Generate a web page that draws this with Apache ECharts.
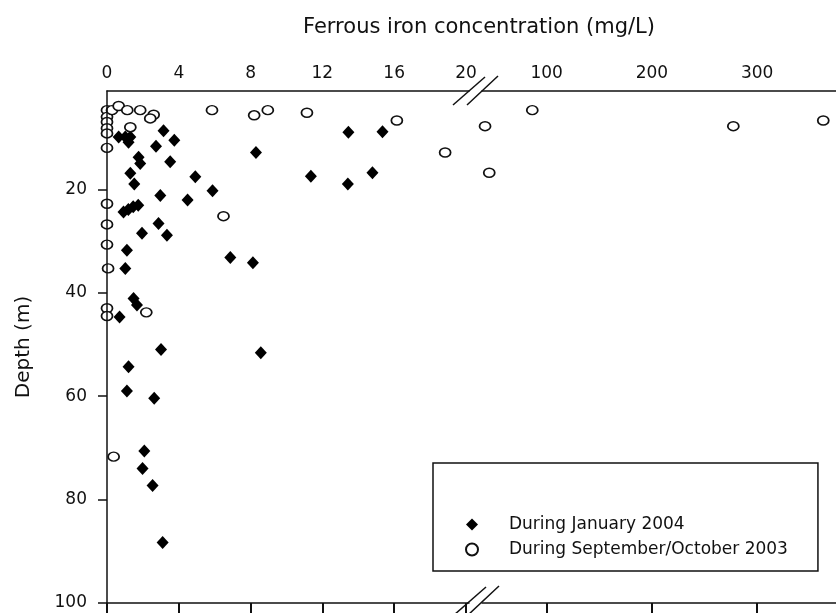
<!DOCTYPE html>
<html>
<head>
<meta charset="utf-8">
<title>Ferrous iron concentration</title>
<script src="https://cdn.jsdelivr.net/npm/echarts@6/dist/echarts.min.js"></script>
<style>
  html, body { margin: 0; padding: 0; background: #fff; }
  #chart { width: 836px; height: 613px; }
</style>
</head>
<body>
<div id="chart"></div>
<script>
  // [concentration mg/L, depth m]
  var januaryPoints = [
    [3.15, 8.7], [3.75, 10.5], [2.73, 11.7], [8.30, 12.9], [1.76, 13.8], [1.85, 15.0],
    [3.52, 14.7], [1.30, 16.9], [1.52, 19.0], [4.92, 17.6], [5.88, 20.3], [2.97, 21.2],
    [4.49, 22.1], [0.92, 24.4], [1.46, 23.4], [1.19, 23.9], [1.74, 23.1], [2.87, 26.6],
    [1.95, 28.5], [3.34, 28.9], [1.11, 31.8], [1.02, 35.3], [6.87, 33.2], [8.13, 34.2],
    [1.48, 41.1], [1.67, 42.4], [0.70, 44.7], [13.45, 9.0], [15.35, 8.9], [11.36, 17.5],
    [14.79, 16.8], [13.42, 19.0], [3.01, 51.0], [8.57, 51.6], [1.20, 54.3], [1.11, 59.0],
    [2.63, 60.4], [2.08, 70.6], [1.98, 74.0], [2.54, 77.3], [3.10, 88.3], [0.65, 9.9],
    [1.02, 9.9], [1.30, 9.9], [1.20, 10.9]
  ];
  var septemberPoints = [
    [0, 4.7], [0, 6.0], [0, 7.0], [0, 8.2], [0, 9.2], [0, 12.0], [0.28, 4.7], [0.65, 3.9],
    [1.13, 4.7], [1.85, 4.7], [2.6, 5.6], [2.41, 6.3], [1.30, 8.0], [5.85, 4.7], [8.2, 5.7],
    [8.96, 4.7], [11.14, 5.2], [16.15, 6.7], [18.84, 12.9], [6.49, 25.2], [0, 22.8],
    [0, 26.8], [0, 30.7], [0.06, 35.3], [0, 43.0], [0, 44.5], [2.19, 43.8], [0.37, 71.7],
    [41.4, 7.8], [45.4, 16.8], [86.3, 4.7], [277.4, 7.8], [362.9, 6.7]
  ];
  var leftTicks = [0, 4, 8, 12, 16, 20];
  var rightTicks = [100, 200, 300];
  var depthTicks = [20, 40, 60, 80, 100];
  var breakAt = 20;

  var janName = 'During January 2004';
  var sepName = 'During September/October 2003';
  var font = 'DejaVu Sans';
  var ink = '#111';

  function lowPart(points) {
    return points.filter(function (p) { return p[0] <= breakAt; });
  }
  function highPart(points) {
    return points.filter(function (p) { return p[0] > breakAt; });
  }

  var chart = echarts.init(document.getElementById('chart'));

  var axisLine = { lineStyle: { color: ink, width: 1.5 } };

  function topAxis(grid, min, max, ticks) {
    return {
      type: 'value', gridIndex: grid, position: 'top', min: min, max: max,
      z: 5, axisLine: axisLine, axisTick: { show: false }, splitLine: { show: false },
      axisLabel: { customValues: ticks, margin: 9, color: ink, fontFamily: font, fontSize: 17 }
    };
  }
  function bottomAxis(grid, min, max, ticks) {
    return {
      type: 'value', gridIndex: grid, position: 'bottom', min: min, max: max,
      z: 5, axisLine: axisLine, splitLine: { show: false },
      axisTick: { customValues: ticks, length: 10, lineStyle: { color: ink, width: 2 } },
      axisLabel: { show: false }
    };
  }

  var janStyle = { color: '#000', opacity: 1 };
  var sepStyle = { color: '#fff', borderColor: ink, borderWidth: 1.6, opacity: 1 };

  chart.setOption({
    animation: false,
    title: {
      text: 'Ferrous iron concentration (mg/L)',
      left: 298,
      top: 12,
      textStyle: { fontFamily: font, fontSize: 21, fontWeight: 'normal', color: ink }
    },
    legend: {
      orient: 'vertical',
      left: 433,
      top: 463,
      padding: [53, 30, 13, 32],
      itemWidth: 12,
      itemHeight: 12,
      itemGap: 8,
      borderColor: ink,
      borderWidth: 1.5,
      data: [janName, sepName],
      textStyle: { fontFamily: font, fontSize: 17, color: ink, padding: [0, 0, 0, 26] }
    },
    grid: [
      { left: 107, top: 91, width: 362, height: 512 },
      { left: 482, top: 91, right: 0, height: 512 }
    ],
    xAxis: [
      topAxis(0, 0, 20.17, leftTicks),
      topAxis(1, 38.5, 375, rightTicks),
      bottomAxis(0, 0, 20.17, leftTicks),
      bottomAxis(1, 38.5, 375, rightTicks)
    ],
    yAxis: [
      {
        type: 'value', gridIndex: 0, inverse: true, min: 1, max: 100, z: 5,
        name: 'Depth (m)', nameLocation: 'middle', nameGap: 73,
        nameTextStyle: { fontFamily: font, fontSize: 20, color: ink },
        axisLine: axisLine, splitLine: { show: false },
        axisTick: { customValues: depthTicks, length: 9, lineStyle: { color: ink, width: 1.5 } },
        axisLabel: { customValues: depthTicks, margin: 20, color: ink, fontFamily: font, fontSize: 17 }
      },
      {
        type: 'value', gridIndex: 1, inverse: true, min: 1, max: 100,
        axisLine: { show: false }, axisTick: { show: false },
        axisLabel: { show: false }, splitLine: { show: false }
      }
    ],
    graphic: [
      { type: 'line', shape: { x1: 453, y1: 105, x2: 485, y2: 77 }, style: { stroke: ink, lineWidth: 1.5 } },
      { type: 'line', shape: { x1: 467, y1: 105, x2: 498, y2: 76 }, style: { stroke: ink, lineWidth: 1.5 } },
      { type: 'line', shape: { x1: 454, y1: 615, x2: 486, y2: 587 }, style: { stroke: ink, lineWidth: 1.5 } },
      { type: 'line', shape: { x1: 468, y1: 615, x2: 499, y2: 586 }, style: { stroke: ink, lineWidth: 1.5 } }
    ],
    series: [
      {
        name: janName, type: 'scatter', xAxisIndex: 0, yAxisIndex: 0, clip: false,
        symbol: 'diamond', symbolSize: [12, 13], itemStyle: janStyle,
        data: lowPart(januaryPoints)
      },
      {
        name: janName, type: 'scatter', xAxisIndex: 1, yAxisIndex: 1, clip: false,
        symbol: 'diamond', symbolSize: [12, 13], itemStyle: janStyle,
        data: highPart(januaryPoints)
      },
      {
        name: sepName, type: 'scatter', xAxisIndex: 0, yAxisIndex: 0, clip: false,
        symbol: 'circle', symbolSize: [11, 9], itemStyle: sepStyle,
        data: lowPart(septemberPoints)
      },
      {
        name: sepName, type: 'scatter', xAxisIndex: 1, yAxisIndex: 1, clip: false,
        symbol: 'circle', symbolSize: [11, 9], itemStyle: sepStyle,
        data: highPart(septemberPoints)
      }
    ]
  });
</script>
</body>
</html>
